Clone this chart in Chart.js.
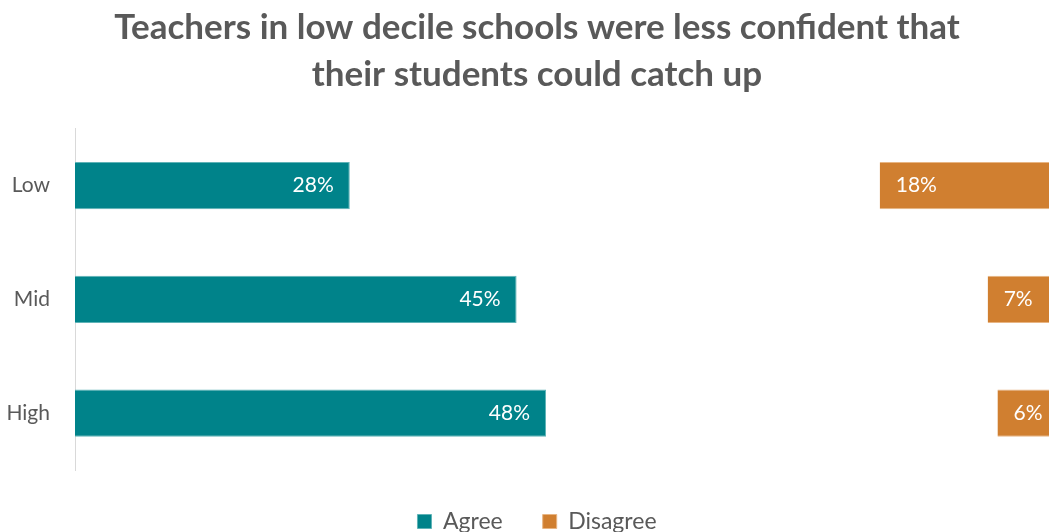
<!DOCTYPE html>
<html>
<head>
<meta charset="utf-8">
<script src="https://cdn.jsdelivr.net/npm/chart.js@4.4.1/dist/chart.umd.min.js"></script>
<style>
  html, body { margin: 0; padding: 0; background: #fff; overflow: hidden; }
  #wrap { width: 1049px; height: 532px; overflow: hidden; position: relative; }
  canvas { position: absolute; left: 0; top: 0; }
</style>
</head>
<body>
<div id="wrap"><canvas id="decileChart" width="1074" height="543"></canvas></div>
<script>
// decile groups and shares of teachers (percent)
const deciles = ['Low', 'Mid', 'High'];
const agree = [28, 45, 48];
const disagree = [18, 7, 6];
// gap between the two groups so that disagree sits at the right end
const neutral = deciles.map((d, i) => 100 - agree[i] - disagree[i]);

const FONT = 'Lato, "Open Sans", sans-serif';
const GREY = '#595959';

// write the percentages inside the bars
const barLabels = {
    id: 'barLabels',
    afterDatasetsDraw(chart) {
        const ctx = chart.ctx;
        ctx.save();
        ctx.font = '21px ' + FONT;
        ctx.fillStyle = '#ffffff';
        ctx.textBaseline = 'middle';
        chart.getDatasetMeta(0).data.forEach((bar, i) => {
            ctx.textAlign = 'right';
            ctx.fillText(agree[i] + '%', bar.x - 16, bar.y);
        });
        chart.getDatasetMeta(2).data.forEach((bar, i) => {
            ctx.textAlign = 'left';
            ctx.fillText(disagree[i] + '%', bar.base + 16, bar.y);
        });
        ctx.restore();
    }
};

const ctx = document.getElementById('decileChart').getContext('2d');
new Chart(ctx, {
    type: 'bar',
    data: {
        labels: deciles,
        datasets: [
            { label: 'Agree', data: agree, backgroundColor: '#00838a', borderColor: '#5fb3b7', borderWidth: 1 },
            { label: 'Neutral', data: neutral, backgroundColor: 'rgba(0,0,0,0)', borderWidth: 0 },
            { label: 'Disagree', data: disagree, backgroundColor: '#d07f30', borderColor: '#e8b583', borderWidth: 1 }
        ]
    },
    options: {
        responsive: false,
        animation: false,
        indexAxis: 'y',
        barPercentage: 0.415,
        categoryPercentage: 1,
        layout: { padding: 0 },
        plugins: {
            title: {
                display: true,
                text: ['Teachers in low decile schools were less confident that', 'their students could catch up'],
                color: GREY,
                font: { family: FONT, size: 35, weight: 'bold', lineHeight: 1.34 },
                padding: { top: 4, bottom: 31 }
            },
            legend: {
                position: 'bottom',
                labels: {
                    filter: item => item.text !== 'Neutral',
                    color: GREY,
                    font: { family: FONT, size: 23 },
                    boxWidth: 14,
                    boxHeight: 14,
                    padding: 40,
                    useBorderRadius: false
                }
            },
            tooltip: { enabled: false }
        },
        scales: {
            x: {
                display: false,
                stacked: true,
                min: 0,
                // the 100% end lies a little past the right edge
                max: 101.8
            },
            y: {
                stacked: true,
                grid: { display: false },
                border: { color: '#d9d9d9', width: 1 },
                ticks: { color: GREY, font: { family: FONT, size: 21 }, padding: 17 },
                afterFit(scale) { scale.width = 75; }
            }
        }
    },
    plugins: [barLabels]
});
</script>
</body>
</html>
